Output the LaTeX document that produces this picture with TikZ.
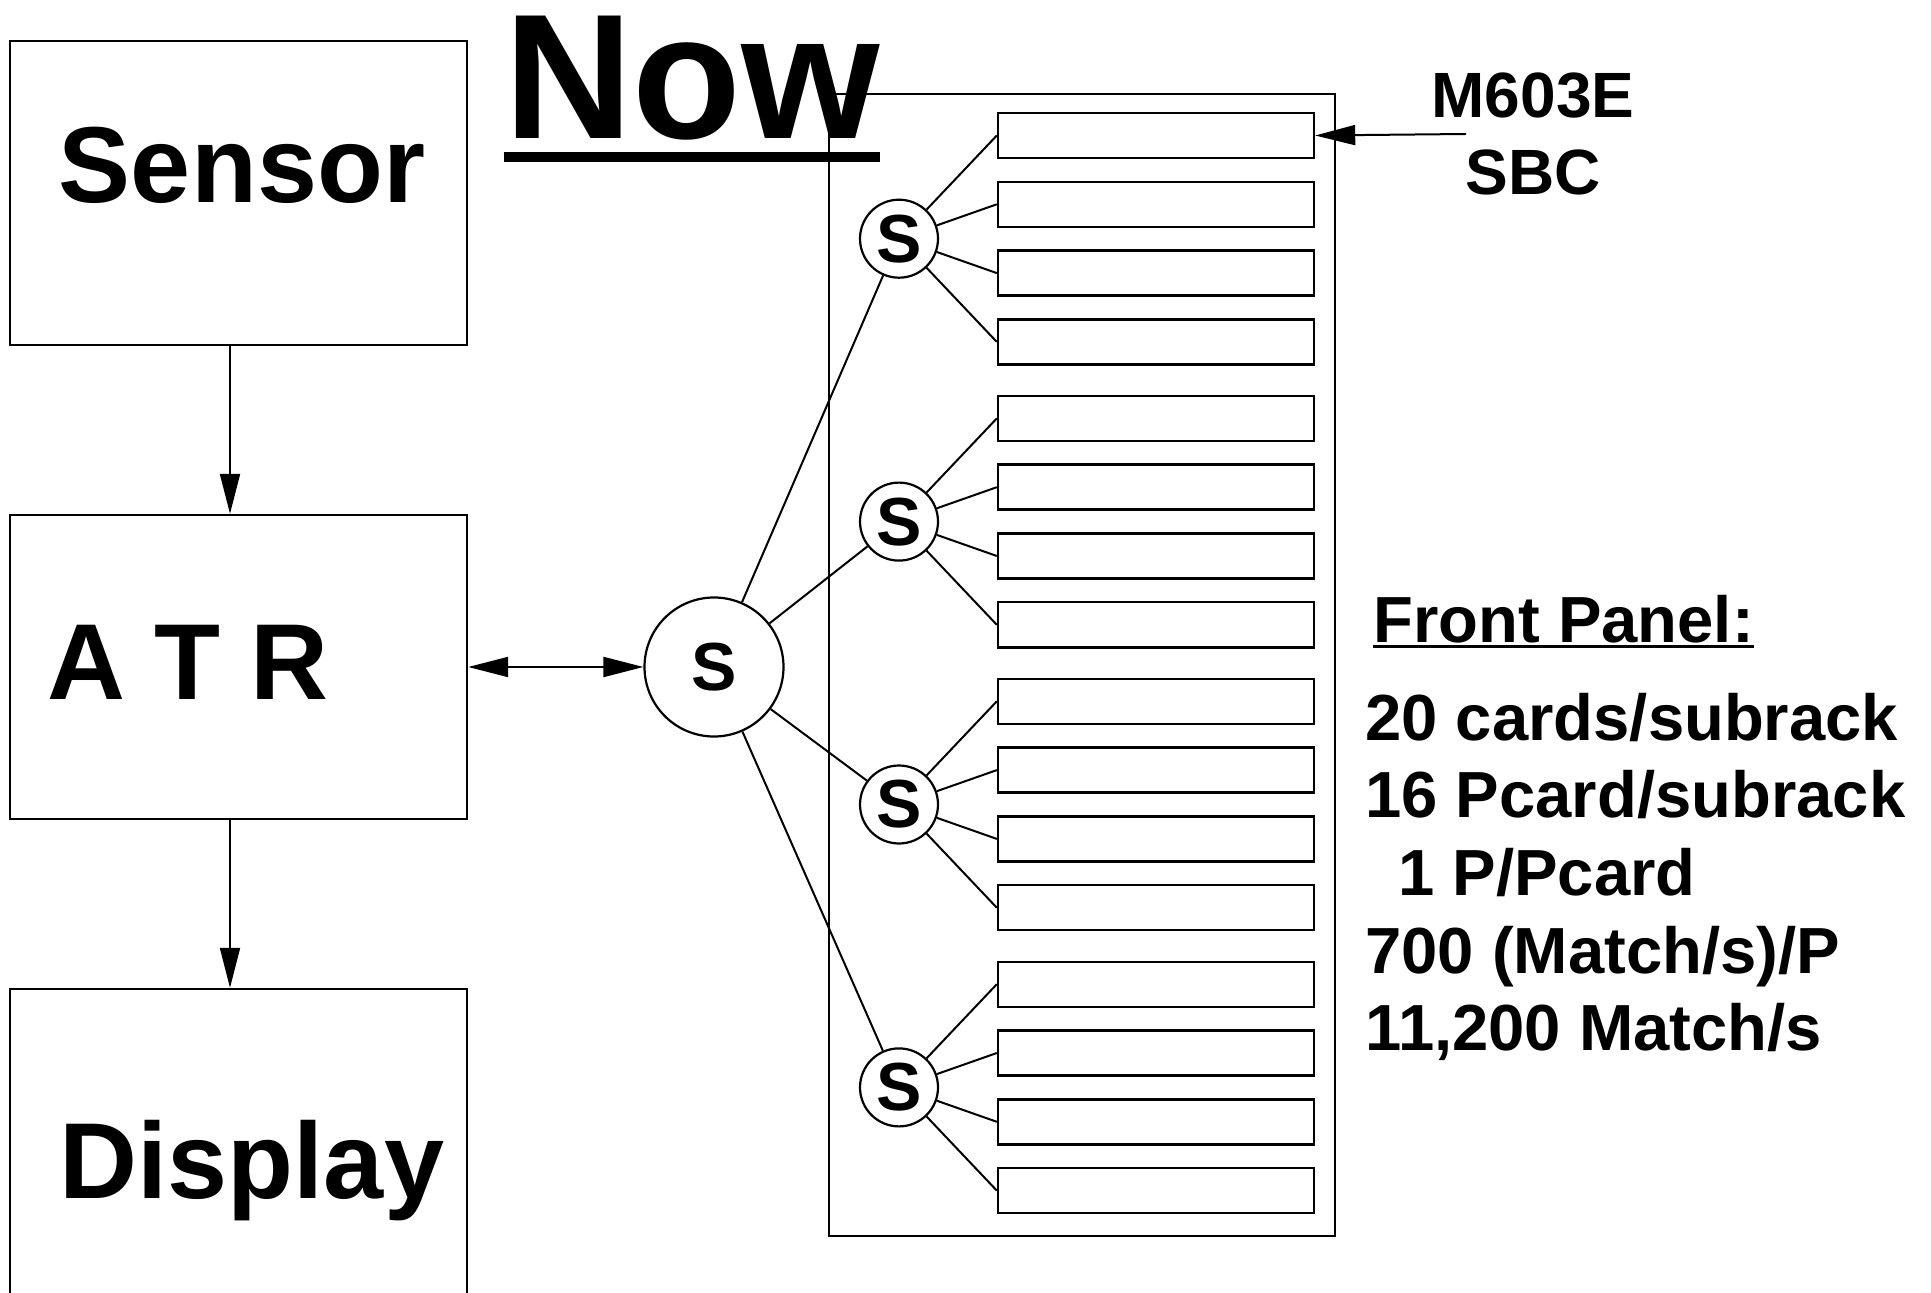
\documentclass[tikz,border=0pt]{standalone}
\usepackage{fontspec}
\setmainfont{Liberation Sans}
\usetikzlibrary{arrows.meta}

\begin{document}
\begin{tikzpicture}[x=0.5pt,y=-0.5pt,font=\bfseries,
    box/.style={draw,line width=1.2pt,minimum width=228.5pt,minimum height=152pt,inner sep=0pt},
    card/.style={draw,line width=1.2pt,minimum width=158pt,minimum height=22.5pt,inner sep=0pt},
    sw/.style={draw,circle,line width=1.1pt,minimum size=39pt,inner sep=0pt,font=\fontsize{34}{34}\bfseries},
    wire/.style={line width=1pt},
    arr/.style={line width=1pt,-{Triangle[length=20pt,width=10pt]}},
    big/.style={font=\fontsize{54}{54}\bfseries,inner sep=0pt,anchor=base},
    info/.style={font=\fontsize{32.6}{32.6}\bfseries,inner sep=0pt,anchor=base west}]
\useasboundingbox (0,0) rectangle (1931,1293);
\clip (0,0) rectangle (1931,1293);

\node[box] (sensor) at (238.5,193) {};
\node[box] (atr) at (238.5,667) {};
\node[box,minimum height=165.5pt] (display) at (238.5,1154.5) {};
\node[big] (sensortext) at (242,203) {Sensor};
\node[big] (atrtext) at (188,699) {A T R};
\node[big] (displaytext) at (252,1198) {Display};

\coordinate (ax) at (230,0);
\draw[arr] (sensor.south -| ax) -- (atr.north -| ax);
\draw[arr] (atr.south -| ax) -- (display.north -| ax);

\draw[line width=1pt] (829,94) rectangle (1335,1236);

\node[font=\fontsize{89}{89}\bfseries,inner sep=0pt,anchor=base] (now) at (692,139) {Now};
\draw[line width=5pt] ([yshift=-9pt]now.base west) -- ([yshift=-9pt]now.base east);

\foreach \i in {0,...,15} {
    \pgfmathsetmacro{\cy}{135.5+68.8*\i+7.7*int(\i/4)}
    \node[card] (card\i) at (1156,\cy) {};
}

\node[sw,minimum size=69.5pt] (hub) at (714,667) {S};
\draw[line width=1pt,{Triangle[length=20pt,width=10pt]}-{Triangle[length=20pt,width=10pt]}] (atr.east) -- (hub.west);

\foreach \g in {0,1,2,3} {
    \pgfmathsetmacro{\sy}{238.7+282.9*\g}
    \node[sw] (sw\g) at (899,\sy) {S};
    \draw[wire] (hub) -- (sw\g);
    \foreach \k in {0,1,2,3} {
        \pgfmathtruncatemacro{\n}{4*\g+\k}
        \draw[wire] (sw\g) -- (card\n.west);
    }
}

\node[font=\fontsize{32}{32}\bfseries,inner sep=0pt,anchor=base] (m603e) at (1533,118) {M603E};
\node[font=\fontsize{32}{32}\bfseries,inner sep=0pt,anchor=base] (sbc) at (1533,195) {SBC};
\coordinate (sbcend) at (1466,134);
\draw[arr] (sbcend) -- (card0.east);

\node[info] (fp) at (1373,642) {Front Panel:};
\draw[line width=1.5pt] ([yshift=-2.25pt]fp.base west) -- ([yshift=-2.25pt]fp.base east);
\node[info] (l1) at (1365,740) {20 cards/subrack};
\node[info] (l2) at (1365,817) {16 Pcard/subrack};
\node[info] (l3) at (1398,895) {1 P/Pcard};
\node[info] (l4) at (1365,973) {700 (Match/s)/P};
\node[info] (l5) at (1365,1050) {11,200 Match/s};
\end{tikzpicture}
\end{document}
